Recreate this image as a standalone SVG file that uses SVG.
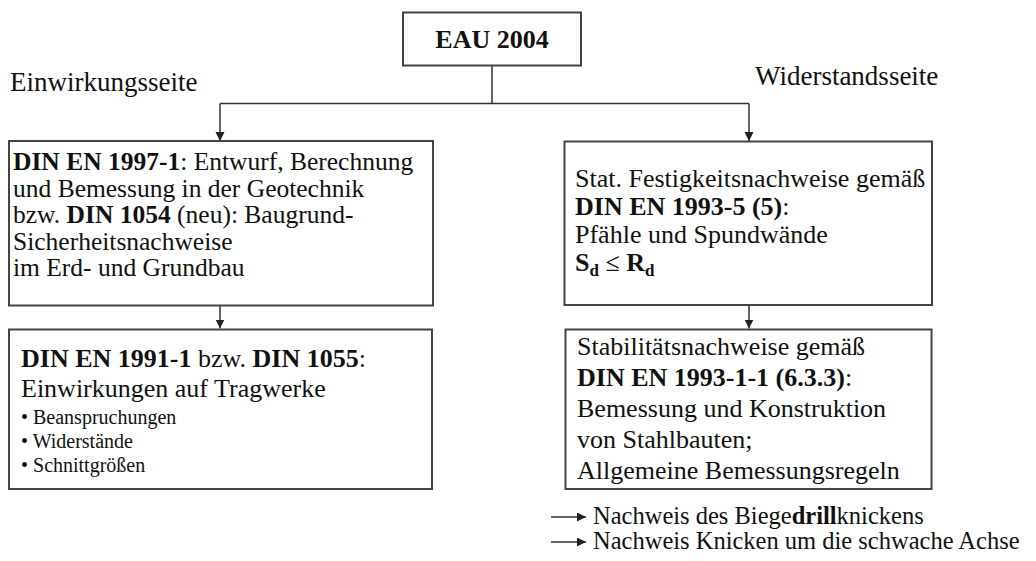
<svg xmlns="http://www.w3.org/2000/svg" width="1036" height="561" viewBox="0 0 1036 561">
<style>
  text { font-family: "Liberation Serif", "Times New Roman", serif; fill: #111; }
  .t { font-size: 26px; }
  .t2 { font-size: 25.5px; }
  .h { font-size: 27px; }
  .s { font-size: 20px; }
  .l { font-size: 24.5px; }
  .b { font-weight: bold; }
  .box { fill: #fff; stroke: #444; stroke-width: 2; }
  .con { fill: none; stroke: #333; stroke-width: 1.5; }
</style>
<defs>
  <marker id="ah" markerUnits="userSpaceOnUse" markerWidth="10" markerHeight="12" refX="9" refY="4.5" orient="auto">
    <path d="M0,0 L9,4.5 L0,9 Z" fill="#222"/>
  </marker>
</defs>
<rect width="1036" height="561" fill="#fff"/>

<g id="connectors">
  <line class="con" x1="492" y1="65" x2="492" y2="103.5"/>
  <line class="con" x1="220" y1="103.5" x2="749" y2="103.5"/>
  <line class="con" x1="220" y1="103.5" x2="220" y2="141" marker-end="url(#ah)"/>
  <line class="con" x1="749" y1="103.5" x2="749" y2="141" marker-end="url(#ah)"/>
  <line class="con" x1="220" y1="306" x2="220" y2="328.5" marker-end="url(#ah)"/>
  <line class="con" x1="749" y1="306" x2="749" y2="328.5" marker-end="url(#ah)"/>
</g>

<g id="eau">
  <rect class="box" x="403" y="12.5" width="178" height="53"/>
  <text class="t b" x="492" y="48" text-anchor="middle">EAU 2004</text>
</g>

<g id="label-einwirkung">
  <text class="h" x="10" y="91">Einwirkungsseite</text>
</g>
<g id="label-widerstand">
  <text class="h" x="755" y="85">Widerstandsseite</text>
</g>

<g id="din1997">
  <rect class="box" x="9" y="141" width="424" height="164.5"/>
  <text class="t2" x="13" y="170"><tspan class="b">DIN EN 1997-1</tspan>: Entwurf, Berechnung</text>
  <text class="t2" x="13" y="196.5">und Bemessung in der Geotechnik</text>
  <text class="t2" x="13" y="223">bzw. <tspan class="b">DIN 1054</tspan> (neu): Baugrund-</text>
  <text class="t2" x="13" y="249.5">Sicherheitsnachweise</text>
  <text class="t2" x="13" y="276">im Erd- und Grundbau</text>
</g>

<g id="din1991">
  <rect class="box" x="9" y="329.5" width="423" height="159.5"/>
  <text class="t" x="21" y="367"><tspan class="b">DIN EN 1991-1</tspan> bzw. <tspan class="b">DIN 1055</tspan>:</text>
  <text class="t" x="21" y="397">Einwirkungen auf Tragwerke</text>
  <text class="s" x="21" y="424">• Beanspruchungen</text>
  <text class="s" x="21" y="448">• Widerstände</text>
  <text class="s" x="21" y="472">• Schnittgrößen</text>
</g>

<g id="din1993-5">
  <rect class="box" x="564.5" y="141.5" width="367.5" height="163.5"/>
  <text class="t" x="575" y="187">Stat. Festigkeitsnachweise gemäß</text>
  <text class="t" x="575" y="215"><tspan class="b">DIN EN 1993-5 (5)</tspan>:</text>
  <text class="t" x="575" y="243">Pfähle und Spundwände</text>
  <text class="t" x="575" y="271"><tspan class="b">S</tspan><tspan class="b" font-size="17" dy="5">d</tspan><tspan dy="-5"> ≤ </tspan><tspan class="b">R</tspan><tspan class="b" font-size="17" dy="5">d</tspan></text>
</g>

<g id="din1993-1-1">
  <rect class="box" x="565.5" y="329.5" width="366" height="159.5"/>
  <text class="t" x="577" y="355">Stabilitätsnachweise gemäß</text>
  <text class="t" x="577" y="386"><tspan class="b">DIN EN 1993-1-1 (6.3.3)</tspan>:</text>
  <text class="t" x="577" y="417">Bemessung und Konstruktion</text>
  <text class="t" x="577" y="448">von Stahlbauten;</text>
  <text class="t" x="577" y="479">Allgemeine Bemessungsregeln</text>
</g>

<g id="legend">
  <line class="con" x1="551" y1="517" x2="586" y2="517" marker-end="url(#ah)"/>
  <line class="con" x1="551" y1="542" x2="586" y2="542" marker-end="url(#ah)"/>
  <text class="l" x="593" y="524">Nachweis des Biege<tspan class="b">drill</tspan>knickens</text>
  <text class="l" x="593" y="549">Nachweis Knicken um die schwache Achse</text>
</g>
</svg>
